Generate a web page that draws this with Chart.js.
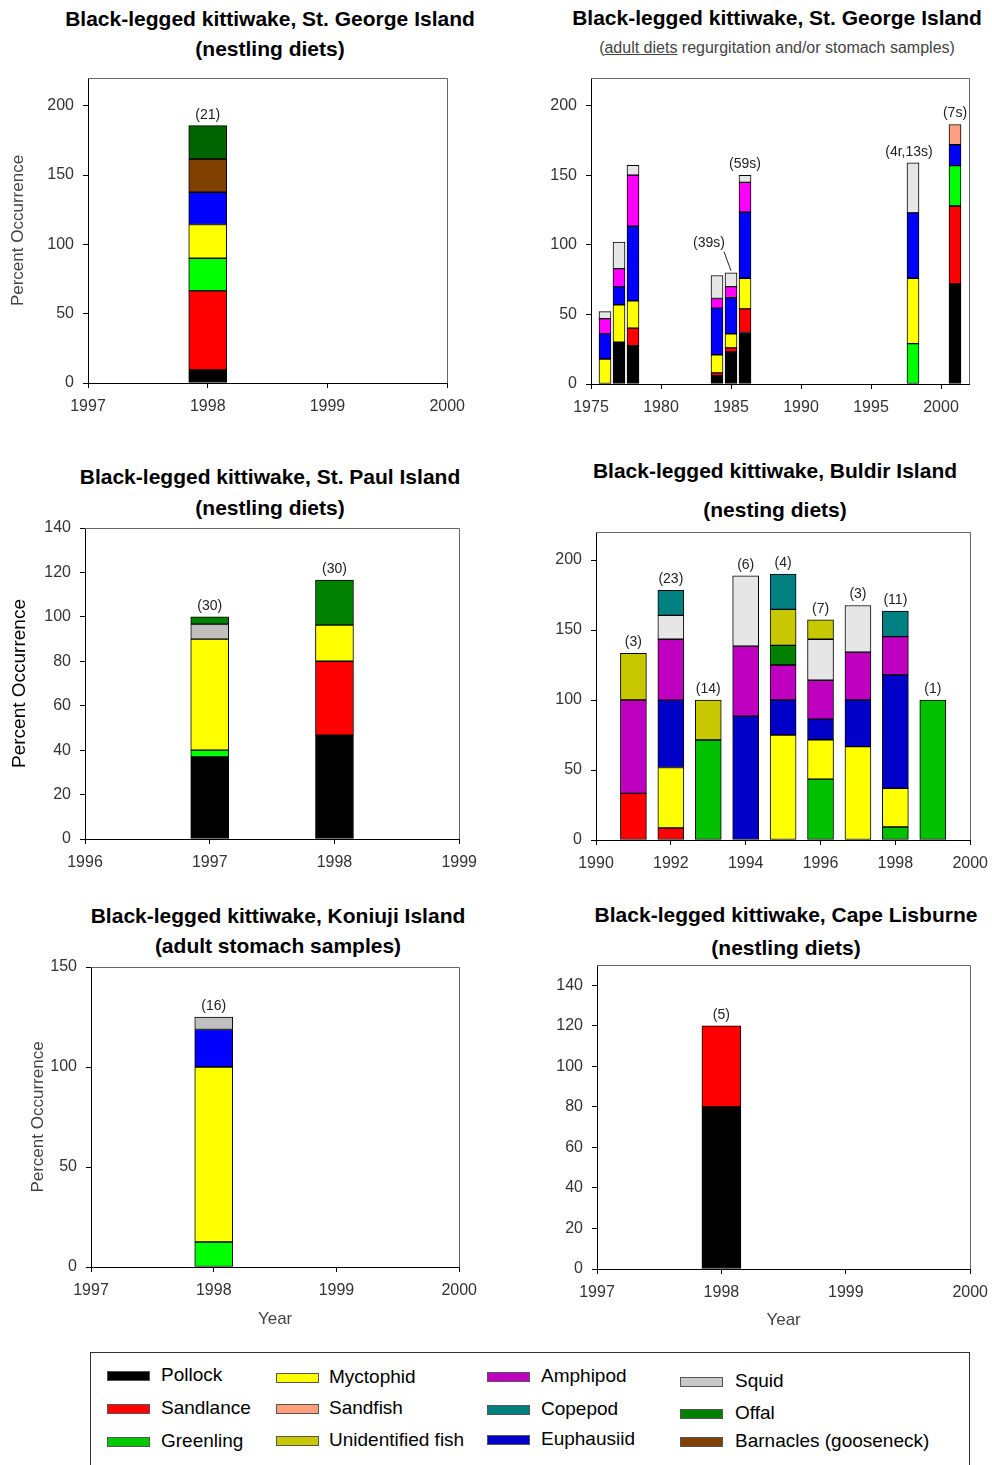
<!DOCTYPE html>
<html><head><meta charset="utf-8">
<script src="https://cdn.jsdelivr.net/npm/chart.js@4.4.1/dist/chart.umd.min.js"></script>
<style>
html,body{margin:0;padding:0;background:#fff;}
body{width:992px;height:1465px;position:relative;overflow:hidden;font-family:"Liberation Sans",Arial,sans-serif;}
canvas.cv{position:absolute;}
.ttl{position:absolute;width:520px;text-align:center;font-weight:bold;font-size:21px;color:#000;white-space:nowrap;line-height:26px;}
.sub{position:absolute;width:520px;text-align:center;font-size:16px;color:#444;white-space:nowrap;line-height:20px;}
#legend{position:absolute;left:90px;top:1352px;width:878px;height:130px;border:1px solid #333;}
.lg-sw{position:absolute;width:41px;height:8px;border:1px solid #555;}
.lg-tx{position:absolute;font-size:19px;color:#000;white-space:nowrap;line-height:22px;}
</style></head><body>
<script>
// ---------------- DATA ----------------
// Panel 1: St. George Island, nestling diets
const sgNestYears = [1998];
const sgNestN = ['(21)'];
const sgNestPollock = [9.5];
const sgNestSandlance = [57];
const sgNestGreenling = [23.5];
const sgNestMyctophid = [24.3];
const sgNestEuphausiid = [23.3];
const sgNestBarnacles = [24];
const sgNestOffal = [24];
const sgNestXTicks = [1997, 1998, 1999, 2000];
const sgNestYTicks = [0, 50, 100, 150, 200];

// Panel 2: St. George Island, adult diets
const sgAdultYears = [1976, 1977, 1978, 1984, 1985, 1986, 1998, 2001];
const sgAdultN = ['', '', '', '', '(39s)', '(59s)', '(4r,13s)', '(7s)'];
const sgAdultPollock = [null, 30, 27.5, 6, 23, 37, null, 72];
const sgAdultSandlance = [null, null, 12.7, 2, 3, 17, null, 56];
const sgAdultGreenling = [null, null, null, null, null, null, 29, 29];
const sgAdultMyctophid = [18, 27, 19.6, 13, 10, 22, 47, null];
const sgAdultEuphausiid = [18, 13, 53.6, 33.5, 26, 47.5, 47, 15];
const sgAdultAmphipod = [11, 13, 36.8, 7, 8, 21.5, null, null];
const sgAdultSquid = [5, 19, 7, 16.5, 10, 5, 36, null];
const sgAdultSandfish = [null, null, null, null, null, null, null, 14.6];
const sgAdultXTicks = [1975, 1980, 1985, 1990, 1995, 2000];
const sgAdultYTicks = [0, 50, 100, 150, 200];

// Panel 3: St. Paul Island, nestling diets
const spYears = [1997, 1998];
const spN = ['(30)', '(30)'];
const spPollock = [37, 46.7];
const spSandlance = [null, 33.3];
const spGreenling = [3, null];
const spMyctophid = [50, 16.3];
const spSquid = [6.7, null];
const spOffal = [3.3, 20.3];
const spXTicks = [1996, 1997, 1998, 1999];
const spYTicks = [0, 20, 40, 60, 80, 100, 120, 140];

// Panel 4: Buldir Island, nesting diets
const buYears = [1991, 1992, 1993, 1994, 1995, 1996, 1997, 1998, 1999];
const buN = ['(3)', '(23)', '(14)', '(6)', '(4)', '(7)', '(3)', '(11)', '(1)'];
const buSandlance = [33.3, 8.6, null, null, null, null, null, null, null];
const buGreenling = [null, null, 71.4, null, null, 43.5, null, 9.3, 100];
const buMyctophid = [null, 43.2, null, null, 75, 28.1, 66.7, 27.6, null];
const buEuphausiid = [null, 48.1, null, 88.5, 25, 14.7, 33.3, 81.1, null];
const buAmphipod = [66.7, 43.5, null, 50, 25, 27.8, 34.2, 27.3, null];
const buSquid = [null, 17.1, null, 50.2, null, 29.3, 33.3, null, null];
const buOffal = [null, null, null, null, 14, null, null, null, null];
const buUnidentified = [33.3, null, 28.6, null, 25.7, 13.8, null, null, null];
const buCopepod = [null, 17.9, null, null, 25.2, null, null, 18.3, null];
const buXTicks = [1990, 1992, 1994, 1996, 1998, 2000];
const buYTicks = [0, 50, 100, 150, 200];

// Panel 5: Koniuji Island, adult stomach samples
const koYears = [1998];
const koN = ['(16)'];
const koGreenling = [12.5];
const koMyctophid = [87.5];
const koEuphausiid = [18.75];
const koSquid = [6.25];
const koXTicks = [1997, 1998, 1999, 2000];
const koYTicks = [0, 50, 100, 150];

// Panel 6: Cape Lisburne, nestling diets
const clYears = [1998];
const clN = ['(5)'];
const clPollock = [80];
const clSandlance = [40];
const clXTicks = [1997, 1998, 1999, 2000];
const clYTicks = [0, 20, 40, 60, 80, 100, 120, 140];

// Legend
const legendNames = ['Pollock', 'Sandlance', 'Greenling', 'Myctophid', 'Sandfish', 'Unidentified fish',
  'Amphipod', 'Copepod', 'Euphausiid', 'Squid', 'Offal', 'Barnacles (gooseneck)'];

// ---------------- STYLES ----------------
const FONT = '"Liberation Sans", Arial, sans-serif';
const legendColors = ['#000000', '#ff0000', '#00c800', '#ffff00', '#ffa07a', '#c8c800',
  '#c000c0', '#008080', '#0000c8', '#c8c8c8', '#008000', '#804000'];
const legendPos = [
  [107, 161, 1376], [107, 161, 1409], [107, 161, 1442],
  [276, 329, 1378], [276, 329, 1409], [276, 329, 1441],
  [487, 541, 1377], [487, 541, 1410], [487, 541, 1440],
  [680, 735, 1382], [680, 735, 1414], [680, 735, 1442]
];

// ---------------- DRAWING ----------------
function makePanel(cfg) {
  const [l, t, r, b] = cfg.box;
  const yW = 85, padT = 20, padR = 25, xH = 70;
  const cl = l - yW, ct = t - padT;
  const cw = r - cl + padR + 2, ch = b - ct + xH;
  const canvas = document.createElement('canvas');
  canvas.className = 'cv';
  canvas.width = cw; canvas.height = ch;
  canvas.style.left = cl + 'px'; canvas.style.top = ct + 'px';
  canvas.style.width = cw + 'px'; canvas.style.height = ch + 'px';
  document.body.appendChild(canvas);

  const datasets = cfg.series.map(([name, arr, color]) => ({
    label: name,
    data: cfg.years.map((yr, i) => ({ x: yr, y: arr[i] })).filter(p => p.y !== null),
    backgroundColor: color,
    borderColor: '#000',
    borderWidth: 1,
    borderSkipped: false,
    barThickness: cfg.barW,
    grouped: false,
    stack: 's'
  }));

  let yTitle = { display: false };
  if (cfg.yTitle) {
    const lh = cfg.yTitle.size * 1.2;
    yTitle = {
      display: true, text: cfg.yTitle.text, color: cfg.yTitle.color,
      font: { size: cfg.yTitle.size, family: FONT },
      padding: { top: Math.max(0, cfg.yTitle.x - cl - lh / 2), bottom: 0 }
    };
  }
  let xTitle = { display: false };
  if (cfg.xTitle) {
    const lh = cfg.xTitle.size * 1.2;
    xTitle = {
      display: true, text: cfg.xTitle.text, color: cfg.xTitle.color,
      font: { size: cfg.xTitle.size, family: FONT },
      padding: { top: 0, bottom: Math.max(0, ct + ch - lh / 2 - cfg.xTitle.y) }
    };
  }

  const deco = {
    id: 'deco',
    afterDraw(chart) {
      const ctx = chart.ctx;
      const ca = chart.chartArea;
      const xs = chart.scales.x, ys = chart.scales.y;
      ctx.save();
      // frame top/right
      ctx.strokeStyle = '#666';
      ctx.lineWidth = 1;
      ctx.beginPath();
      ctx.moveTo(Math.round(ca.left), Math.round(ca.top) + 0.5);
      ctx.lineTo(Math.round(ca.right) + 0.5, Math.round(ca.top) + 0.5);
      ctx.lineTo(Math.round(ca.right) + 0.5, Math.round(ca.bottom));
      ctx.stroke();
      // n labels
      ctx.fillStyle = '#222';
      ctx.font = '14px ' + FONT;
      ctx.textAlign = 'center';
      ctx.textBaseline = 'middle';
      cfg.years.forEach((yr, i) => {
        const txt = cfg.n[i];
        if (!txt) return;
        let total = 0;
        cfg.series.forEach(s => { if (s[1][i] !== null) total += s[1][i]; });
        const px = xs.getPixelForValue(yr);
        const py = ys.getPixelForValue(total);
        const off = (cfg.labelOffsets && cfg.labelOffsets[yr]) || { dx: 0, dy: -11 };
        ctx.fillText(txt, px + off.dx, py + off.dy);
        if (off.leader) {
          ctx.strokeStyle = '#222';
          ctx.beginPath();
          ctx.moveTo(px + off.dx + 15, py + off.dy + 9);
          ctx.lineTo(px, py - 2);
          ctx.stroke();
        }
      });
      ctx.restore();
    }
  };

  const tickFont = { size: 16, family: FONT };
  new Chart(canvas, {
    type: 'bar',
    data: { datasets },
    options: {
      responsive: false,
      animation: false,
      devicePixelRatio: 1,
      layout: { padding: { left: 0, top: padT, right: padR, bottom: 0 } },
      plugins: { legend: { display: false }, tooltip: { enabled: false }, title: { display: false } },
      scales: {
        x: {
          type: 'linear', min: cfg.xMin, max: cfg.xMax, offset: false,
          grid: { offset: false, display: true, drawOnChartArea: false, drawTicks: true, tickLength: 5, color: '#000' },
          border: { display: true, color: '#000', width: 1 },
          ticks: { color: '#333', font: tickFont, padding: 9, maxRotation: 0, autoSkip: false, callback: v => String(v) },
          afterBuildTicks: s => { s.ticks = cfg.xTicks.map(v => ({ value: v })); },
          afterFit: s => { s.height = xH; },
          title: xTitle
        },
        y: {
          type: 'linear', stacked: true, min: 0, max: cfg.yMax,
          grid: { display: true, drawOnChartArea: false, drawTicks: true, tickLength: 5, color: '#000' },
          border: { display: true, color: '#000', width: 1 },
          ticks: { color: '#333', font: tickFont, padding: 9, autoSkip: false, callback: v => String(v) },
          afterBuildTicks: s => { s.ticks = cfg.yTicks.map(v => ({ value: v })); },
          afterFit: s => { s.width = yW; },
          title: yTitle
        }
      }
    },
    plugins: [deco]
  });
}

function addText(cls, text, cx, cy, html) {
  const d = document.createElement('div');
  d.className = cls;
  if (html) d.innerHTML = text; else d.textContent = text;
  const h = cls === 'ttl' ? 26 : 20;
  d.style.left = (cx - 260) + 'px';
  d.style.top = (cy - h / 2) + 'px';
  document.body.appendChild(d);
}

// Titles
addText('ttl', 'Black-legged kittiwake, St. George Island', 270, 19);
addText('ttl', '(nestling diets)', 270, 49);
addText('ttl', 'Black-legged kittiwake, St. George Island', 777, 18);
addText('sub', '(<u>adult diets</u> regurgitation and/or stomach samples)', 777, 48, true);
addText('ttl', 'Black-legged kittiwake, St. Paul Island', 270, 477);
addText('ttl', '(nestling diets)', 270, 508);
addText('ttl', 'Black-legged kittiwake, Buldir Island', 775, 471);
addText('ttl', '(nesting diets)', 775, 510);
addText('ttl', 'Black-legged kittiwake, Koniuji Island', 278, 916);
addText('ttl', '(adult stomach samples)', 278, 946);
addText('ttl', 'Black-legged kittiwake, Cape Lisburne', 786, 915);
addText('ttl', '(nestling diets)', 786, 948);

const C = {
  pollock: '#000000', sandlance: '#ff0000', greenBright: '#00ff00', greenMid: '#00c000',
  myct: '#ffff00', sandfish: '#ffa080', unid: '#c8c800', amphBright: '#ff00ff', amph: '#c000c0',
  copepod: '#008080', euphBright: '#0000ff', euph: '#0000c8', squidLight: '#e6e6e6', squid: '#c0c0c0',
  offal: '#008000', offalDark: '#006400', barnacles: '#804000'
};

makePanel({
  box: [88, 78, 447, 383], xMin: 1997, xMax: 2000, yMax: 220, barW: 38,
  years: sgNestYears, n: sgNestN, xTicks: sgNestXTicks, yTicks: sgNestYTicks,
  yTitle: { text: 'Percent Occurrence', size: 17, color: '#444', x: 18 },
  series: [
    ['Pollock', sgNestPollock, C.pollock], ['Sandlance', sgNestSandlance, C.sandlance],
    ['Greenling', sgNestGreenling, C.greenBright], ['Myctophid', sgNestMyctophid, C.myct],
    ['Euphausiid', sgNestEuphausiid, C.euphBright], ['Barnacles (gooseneck)', sgNestBarnacles, C.barnacles],
    ['Offal', sgNestOffal, C.offalDark]
  ]
});

makePanel({
  box: [591, 78, 967, 384], xMin: 1975, xMax: 2002, yMax: 220, barW: 12,
  years: sgAdultYears, n: sgAdultN, xTicks: sgAdultXTicks, yTicks: sgAdultYTicks,
  labelOffsets: { 1985: { dx: -22, dy: -30, leader: true }, 1998: { dx: -4, dy: -11 } },
  series: [
    ['Pollock', sgAdultPollock, C.pollock], ['Sandlance', sgAdultSandlance, C.sandlance],
    ['Greenling', sgAdultGreenling, C.greenBright], ['Myctophid', sgAdultMyctophid, C.myct],
    ['Euphausiid', sgAdultEuphausiid, C.euphBright], ['Amphipod', sgAdultAmphipod, C.amphBright],
    ['Squid', sgAdultSquid, C.squidLight], ['Sandfish', sgAdultSandfish, C.sandfish]
  ]
});

makePanel({
  box: [85, 528, 459, 839], xMin: 1996, xMax: 1999, yMax: 140, barW: 38,
  years: spYears, n: spN, xTicks: spXTicks, yTicks: spYTicks,
  yTitle: { text: 'Percent Occurrence', size: 19, color: '#000', x: 20 },
  series: [
    ['Pollock', spPollock, C.pollock], ['Sandlance', spSandlance, C.sandlance],
    ['Greenling', spGreenling, C.greenBright], ['Myctophid', spMyctophid, C.myct],
    ['Squid', spSquid, C.squid], ['Offal', spOffal, C.offal]
  ]
});

makePanel({
  box: [596, 532, 970, 840], xMin: 1990, xMax: 2000, yMax: 220, barW: 26,
  years: buYears, n: buN, xTicks: buXTicks, yTicks: buYTicks,
  series: [
    ['Sandlance', buSandlance, C.sandlance], ['Greenling', buGreenling, C.greenMid],
    ['Myctophid', buMyctophid, C.myct], ['Euphausiid', buEuphausiid, C.euph],
    ['Amphipod', buAmphipod, C.amph], ['Squid', buSquid, C.squidLight],
    ['Offal', buOffal, C.offal], ['Unidentified fish', buUnidentified, C.unid],
    ['Copepod', buCopepod, C.copepod]
  ]
});

makePanel({
  box: [91, 967, 459, 1267], xMin: 1997, xMax: 2000, yMax: 150, barW: 38,
  years: koYears, n: koN, xTicks: koXTicks, yTicks: koYTicks,
  yTitle: { text: 'Percent Occurrence', size: 17, color: '#444', x: 38 },
  xTitle: { text: 'Year', size: 17, color: '#444', y: 1319 },
  series: [
    ['Greenling', koGreenling, C.greenBright], ['Myctophid', koMyctophid, C.myct],
    ['Euphausiid', koEuphausiid, C.euphBright], ['Squid', koSquid, C.squid]
  ]
});

makePanel({
  box: [597, 965, 970, 1269], xMin: 1997, xMax: 2000, yMax: 150, barW: 39,
  years: clYears, n: clN, xTicks: clXTicks, yTicks: clYTicks,
  xTitle: { text: 'Year', size: 17, color: '#444', y: 1320 },
  series: [
    ['Pollock', clPollock, C.pollock], ['Sandlance', clSandlance, C.sandlance]
  ]
});

// Legend
const lg = document.createElement('div');
lg.id = 'legend';
document.body.appendChild(lg);
legendNames.forEach((name, i) => {
  const [sx, tx, cy] = legendPos[i];
  const sw = document.createElement('div');
  sw.className = 'lg-sw';
  sw.style.left = sx + 'px'; sw.style.top = (cy - 5) + 'px';
  sw.style.background = legendColors[i];
  document.body.appendChild(sw);
  const t = document.createElement('div');
  t.className = 'lg-tx';
  t.textContent = name;
  t.style.left = tx + 'px'; t.style.top = (cy - 12) + 'px';
  document.body.appendChild(t);
});
</script>
</body></html>
